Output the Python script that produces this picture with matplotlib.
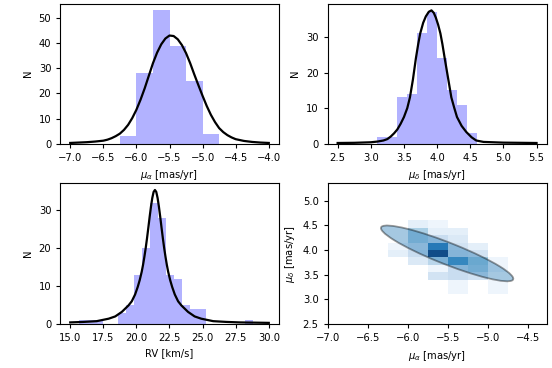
import numpy as np
import matplotlib
matplotlib.use("Agg")
import matplotlib.pyplot as plt
from matplotlib.patches import Ellipse

# ---- Panel 1: proper motion in RA ----
pmra_bin_left = [-6.25, -6.0, -5.75, -5.5, -5.25, -5.0]
pmra_bin_width = 0.25
pmra_counts = [3, 28, 53, 39, 25, 4]
pmra_curve_x = [-7.0, -6.875, -6.75, -6.625, -6.5, -6.4375, -6.375, -6.3125, -6.25,
                -6.1875, -6.125, -6.0625, -6.0, -5.9375, -5.875, -5.8125, -5.75,
                -5.6875, -5.625, -5.5625, -5.5, -5.4375, -5.375, -5.3125, -5.25,
                -5.1875, -5.125, -5.0625, -5.0, -4.9375, -4.875, -4.8125, -4.75,
                -4.6875, -4.625, -4.5625, -4.5, -4.375, -4.25, -4.125, -4.0]
pmra_curve_y = [0.3, 0.45, 0.6, 0.85, 1.2, 1.6, 2.2, 3.0, 4.0,
                5.5, 7.5, 10.2, 13.5, 17.5, 22, 27, 32,
                36.2, 39.5, 41.8, 43, 42.8, 41.5, 39.2, 36,
                32, 27.5, 23.2, 19, 15, 11.5, 8.6, 6.2,
                4.6, 3.4, 2.5, 1.8, 1.1, 0.7, 0.45, 0.3]

# ---- Panel 2: proper motion in Dec ----
pmdec_bin_left = [3.1, 3.25, 3.4, 3.55, 3.7, 3.85, 4.0, 4.15, 4.3, 4.45]
pmdec_bin_width = 0.15
pmdec_counts = [2, 2, 13, 14, 31, 37, 24, 15, 11, 3]
pmdec_curve_x = [2.5, 2.75, 3.0, 3.1, 3.19, 3.25, 3.3, 3.35, 3.4, 3.45, 3.5, 3.55,
                 3.59, 3.635, 3.68, 3.715, 3.745, 3.79, 3.83, 3.875, 3.915, 3.95,
                 3.98, 4.015, 4.05, 4.08, 4.115, 4.165, 4.215, 4.26, 4.3, 4.37,
                 4.44, 4.52, 4.59, 4.7, 5.0, 5.5]
pmdec_curve_y = [0.2, 0.25, 0.4, 0.6, 0.9, 1.3, 2.0, 2.9, 4.0, 5.6, 7.5, 10.0,
                 13, 18, 24, 28, 31, 34, 35.8, 37.1, 37.5, 36.8,
                 35.5, 33.5, 31, 28, 24, 18.5, 13, 10, 7.5, 5.0,
                 3.3, 1.8, 0.9, 0.5, 0.3, 0.2]

# ---- Panel 3: radial velocity ----
rv_bin_left = [15.04, 15.64, 16.24, 16.84, 17.44, 18.04, 18.64, 19.24, 19.84, 20.44,
               21.04, 21.64, 22.24, 22.84, 23.44, 24.04, 24.64, 25.24, 25.84, 26.44,
               27.04, 27.64, 28.24]
rv_bin_width = 0.6
rv_counts = [0, 1, 1, 1, 0, 0, 3, 5, 13, 20,
             32, 28, 13, 12, 5, 4, 4, 0, 0, 0,
             0, 0, 1]
rv_curve_x = [15.0, 16.0, 17.0, 17.9, 18.4, 18.9, 19.4, 19.65, 19.9, 20.1, 20.25,
              20.4, 20.5, 20.6, 20.7, 20.8, 20.9, 21.0, 21.1, 21.2, 21.3, 21.4,
              21.5, 21.6, 21.7, 21.8, 21.9, 22.0, 22.1, 22.2, 22.3, 22.4, 22.55,
              22.7, 22.9, 23.15, 23.4, 23.9, 24.4, 24.9, 25.8, 26.8, 27.8, 30.0]
rv_curve_y = [0.42, 0.55, 0.75, 1.4, 2.0, 3.2, 4.9, 6.0, 7.8, 9.8, 11.6,
              13.8, 15.6, 17.7, 20.0, 22.6, 25.4, 28.3, 31.0, 33.3, 34.9, 35.4,
              34.9, 33.3, 31.0, 28.3, 25.4, 22.6, 20.0, 17.7, 15.6, 13.8, 11.6,
              9.8, 7.8, 6.0, 4.9, 3.2, 2.0, 1.4, 0.75, 0.55, 0.42, 0.3]

# ---- Panel 4: 2D histogram of proper motions ----
pm2d_x_edges = [-6.25, -6.0, -5.75, -5.5, -5.25, -5.0, -4.75]
pm2d_y_edges = [3.1, 3.25, 3.4, 3.55, 3.7, 3.85, 4.0, 4.15, 4.3, 4.45, 4.6]
pm2d_counts = [  # rows: pmdec bins (low -> high), cols: pmra bins
    [0, 0, 0, 1, 0, 1],
    [0, 0, 0, 1, 0, 1],
    [0, 0, 4, 5, 4, 0],
    [0, 0, 1, 5, 7, 1],
    [0, 3, 6, 13, 8, 1],
    [2, 5, 21, 5, 4, 0],
    [1, 4, 15, 4, 2, 0],
    [0, 7, 5, 3, 0, 0],
    [0, 7, 2, 2, 0, 0],
    [0, 2, 1, 0, 0, 0],
]
ell_center = (-5.51, 3.93)
ell_width = 1.96
ell_height = 0.4
ell_angle = -33.4

fs = 7.2
plt.rcParams.update({
    "font.size": fs,
    "axes.labelsize": fs,
    "xtick.labelsize": fs,
    "ytick.labelsize": fs,
    "axes.linewidth": 0.8,
    "xtick.major.size": 3.0,
    "ytick.major.size": 3.0,
})

fig = plt.figure(figsize=(5.52, 3.68), dpi=100)
W, H = 552.0, 368.0

def add_ax(l, t, r, b):
    return fig.add_axes([l / W, 1 - b / H, (r - l) / W, (b - t) / H])

ax1 = add_ax(60.3, 3.7, 278.7, 143.7)
ax2 = add_ax(327.7, 3.7, 546.5, 143.7)
ax3 = add_ax(60.3, 183.3, 278.7, 324.0)
ax4 = add_ax(327.7, 183.3, 546.5, 324.0)

bar_kw = dict(align="edge", color="b", alpha=0.3, linewidth=0)
line_kw = dict(color="k", lw=1.6, solid_joinstyle="round")

ax1.bar(pmra_bin_left, pmra_counts, width=pmra_bin_width, **bar_kw)
ax1.plot(pmra_curve_x, pmra_curve_y, **line_kw)
ax1.set_xlabel(r"$\mu_\alpha$ [mas/yr]")
ax1.set_ylabel("N")
ax1.set_xticks([-7.0, -6.5, -6.0, -5.5, -5.0, -4.5, -4.0])

ax2.bar(pmdec_bin_left, pmdec_counts, width=pmdec_bin_width, **bar_kw)
ax2.plot(pmdec_curve_x, pmdec_curve_y, **line_kw)
ax2.set_xlabel(r"$\mu_\delta$ [mas/yr]")
ax2.set_ylabel("N")
ax2.set_xticks([2.5, 3.0, 3.5, 4.0, 4.5, 5.0, 5.5])
ax2.set_yticks([0, 10, 20, 30])

ax3.bar(rv_bin_left, rv_counts, width=rv_bin_width, **bar_kw)
ax3.plot(rv_curve_x, rv_curve_y, **line_kw)
ax3.set_xlabel("RV [km/s]")
ax3.set_ylabel("N")
ax3.set_xticks([15.0, 17.5, 20.0, 22.5, 25.0, 27.5, 30.0])
ax3.set_yticks([0, 10, 20, 30])

Hc = np.ma.masked_equal(np.array(pm2d_counts, dtype=float), 0)
ax4.pcolormesh(pm2d_x_edges, pm2d_y_edges, Hc, cmap="Blues", vmin=0, vmax=Hc.max())
ell = Ellipse(ell_center, ell_width, height=ell_height, angle=ell_angle,
              facecolor="C0", edgecolor="k", alpha=0.4, lw=1.3, zorder=3)
ax4.add_patch(ell)
ax4.set_xlim(-7.0, -4.27)
ax4.set_ylim(2.5, 5.35)
ax4.set_xticks([-7.0, -6.5, -6.0, -5.5, -5.0, -4.5])
ax4.set_yticks([2.5, 3.0, 3.5, 4.0, 4.5, 5.0])
ax4.set_xlabel(r"$\mu_\alpha$ [mas/yr]")
ax4.set_ylabel(r"$\mu_\delta$ [mas/yr]")

fig.savefig("out.png", dpi=100)
